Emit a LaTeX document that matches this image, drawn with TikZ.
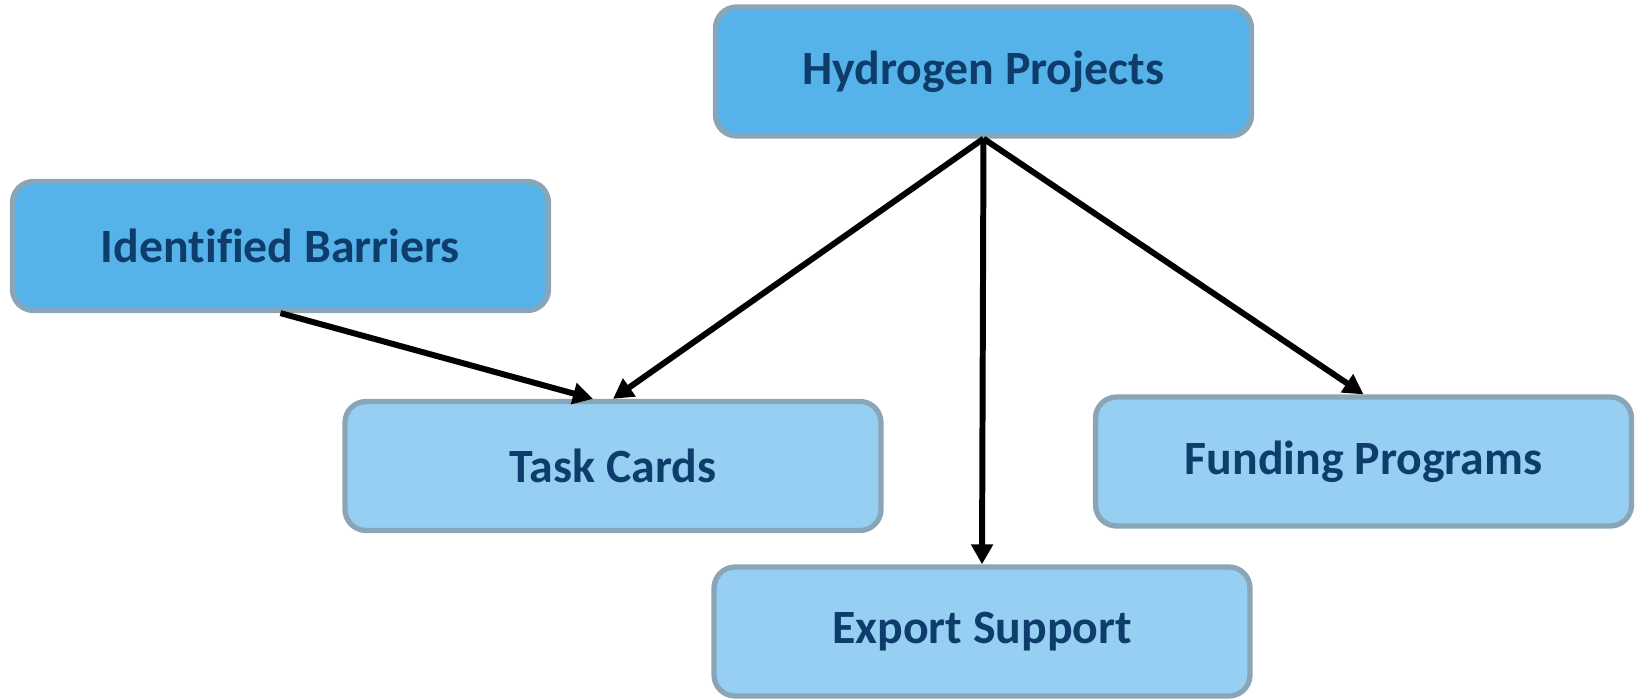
\documentclass[tikz,border=0pt]{standalone}
\usepackage{fontspec}
\setmainfont{Carlito}[Ligatures=NoCommon]
\usepackage{xcolor}
\usetikzlibrary{arrows.meta, positioning}
\definecolor{topblue}{HTML}{56B3E9}
\definecolor{lowblue}{HTML}{97CFF2}
\definecolor{edgegrey}{HTML}{8AA5B8}
\definecolor{inkblue}{HTML}{0E3C6B}

\begin{document}
\begin{tikzpicture}[
          box/.style={draw=edgegrey, line width=1.5pt, rounded corners=6pt, minimum width=5.36cm,
                      minimum height=1.29cm, font=\fontsize{13.6}{16}\selectfont\bfseries,
                      text=inkblue, inner sep=2pt},
          ar/.style={-{Triangle[length=2mm, width=2.1mm]}, line width=1.7pt}
        ]
        \useasboundingbox (0,0) rectangle (16.36,6.98);
        \node[box, fill=topblue] (hyd) at (9.835,6.265) {Hydrogen Projects};
        \node[box, fill=topblue] (bar) at (2.805,4.52) {Identified Barriers};
        \node[box, fill=lowblue] (task) at (6.13,2.32) {Task Cards};
        \node[box, fill=lowblue] (fund) at (13.635,2.365) {Funding Programs};
        \node[box, fill=lowblue] (exp) at (9.82,0.665) {Export Support};

        \draw[ar] (bar.south) -- ([xshift=-0.2cm]task.north);
        \draw[ar] (hyd.south) -- (task.north);
        \draw[ar] (hyd.south) -- (exp.north);
        \draw[ar] (hyd.south) -- (fund.north);
      \end{tikzpicture}
\end{document}
